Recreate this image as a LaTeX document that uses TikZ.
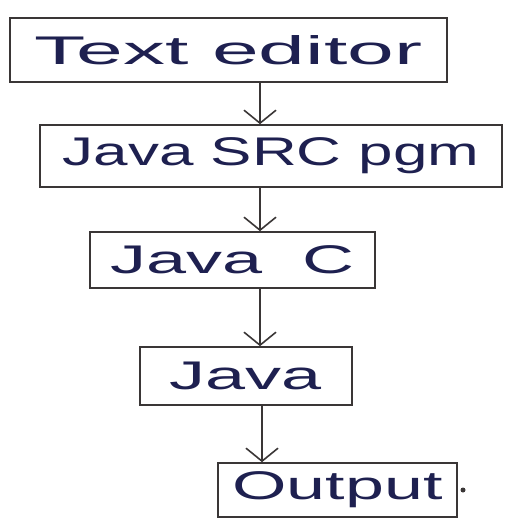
\documentclass[tikz,border=0pt]{standalone}
\usepackage{fontspec}
\usepackage{graphicx}
\setmainfont{Liberation Sans}
\usetikzlibrary{arrows.meta}
\definecolor{ink}{HTML}{1E2050}
\definecolor{pencil}{HTML}{3A3636}
\newcommand\hw[2]{\scalebox{#1}[1]{#2}}
\tikzset{
  flowbox/.style={draw=pencil, line width=1.6pt, inner sep=0pt, text=ink,
    font=\fontsize{40}{48}\selectfont},
  flowarrow/.style={draw=pencil, line width=1.5pt,
    -{Straight Barb[length=13pt,width=32pt,line width=1.6pt]}}
}
\begin{document}
\begin{tikzpicture}[x=1pt,y=-1pt]
\useasboundingbox (0,0) rectangle (505,520);
\node[flowbox, minimum width=437pt, minimum height=64pt] (b1) at (228.5,50) {\hw{2.1}{Text editor}};
\node[flowbox, minimum width=462pt, minimum height=62pt] (b2) at (271,156) {\hw{1.55}{Java SRC pgm}};
\node[flowbox, minimum width=285pt, minimum height=56pt] (b3) at (232.5,260) {\hw{1.8}{Java\ \ C}};
\node[flowbox, minimum width=212pt, minimum height=58pt] (b4) at (246,376) {\hw{1.8}{Java}};
\node[flowbox, minimum width=239pt, minimum height=54pt] (b5) at (337.5,490) {\hw{1.75}{Output}};
\node[circle, fill=pencil, inner sep=0pt, minimum size=5pt] (dot) at (463,490) {};
\coordinate (ax) at (260,0);
\coordinate (ay) at (262,0);
\draw[flowarrow] (b1.south -| ax) -- (b2.north -| ax);
\draw[flowarrow] (b2.south -| ax) -- (b3.north -| ax);
\draw[flowarrow] (b3.south -| ax) -- (b4.north -| ax);
\draw[flowarrow] (b4.south -| ay) -- (b5.north -| ay);
\end{tikzpicture}
\end{document}
